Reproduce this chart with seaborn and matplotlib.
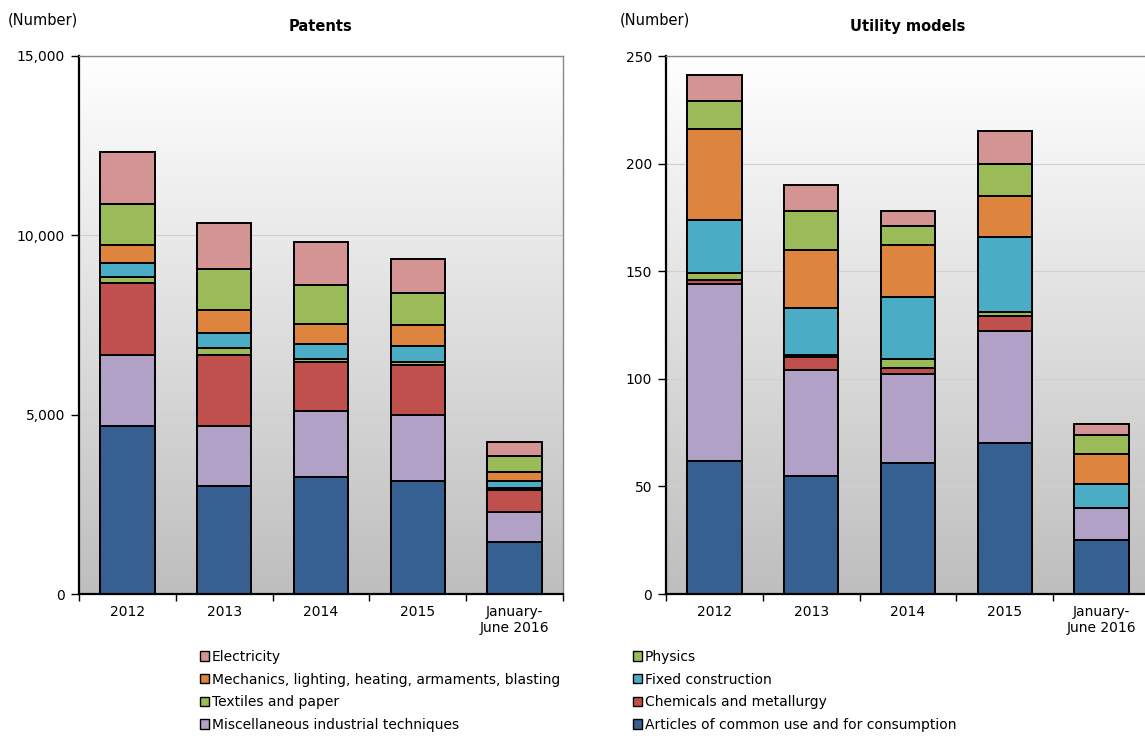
#!/usr/bin/env python3
"""Stacked bars: patents and utility models by technology field."""

import numpy as np
import pandas as pd
import matplotlib
matplotlib.use('Agg')
import matplotlib.pyplot as plt
from matplotlib.colors import LinearSegmentedColormap
from matplotlib.patches import Patch
from matplotlib.ticker import FuncFormatter, FixedLocator
import seaborn as sns

periods = ['2012', '2013', '2014', '2015', 'January-\nJune 2016']

# fields, bottom of the stack first
fields = [
    'Articles of common use and for consumption',
    'Miscellaneous industrial techniques',
    'Chemicals and metallurgy',
    'Textiles and paper',
    'Fixed construction',
    'Mechanics, lighting, heating, armaments, blasting',
    'Physics',
    'Electricity',
]
colors = ['#366092', '#B2A1C7', '#C0504D', '#9BBB59',
          '#4BACC6', '#DD843E', '#9BBB59', '#D49494']

patents_articles = [4684, 3011, 3262, 3159, 1458]
patents_misc = [1979, 1664, 1849, 1840, 820]
patents_chem = [2016, 1997, 1365, 1394, 613]
patents_textiles = [159, 177, 67, 75, 60]
patents_fixed = [381, 436, 436, 454, 208]
patents_mech = [511, 641, 548, 577, 234]
patents_physics = [1134, 1126, 1087, 884, 463]
patents_elec = [1467, 1300, 1208, 965, 390]

utility_articles = [62, 55, 61, 70, 25]
utility_misc = [82, 49, 41, 52, 15]
utility_chem = [2, 6, 3, 7, 0]
utility_textiles = [3, 1, 4, 2, 0]
utility_fixed = [25, 22, 29, 35, 11]
utility_mech = [42, 27, 24, 19, 14]
utility_physics = [13, 18, 9, 15, 9]
utility_elec = [12, 12, 7, 15, 5]

patents = [patents_articles, patents_misc, patents_chem, patents_textiles,
           patents_fixed, patents_mech, patents_physics, patents_elec]
utility = [utility_articles, utility_misc, utility_chem, utility_textiles,
           utility_fixed, utility_mech, utility_physics, utility_elec]

sns.set_theme(style='white')
plt.rcParams['font.family'] = ['DejaVu Sans']
plt.rcParams['text.color'] = 'black'
plt.rcParams['axes.labelcolor'] = 'black'
plt.rcParams['xtick.color'] = 'black'
plt.rcParams['ytick.color'] = 'black'

bg_cmap = LinearSegmentedColormap.from_list('bg', ['#BEBEBE', '#FFFFFF'])


def draw_panel(ax, layers, ymax, step, title):
    # gradient background
    grad = np.linspace(0, 1, 256).reshape(-1, 1)
    ax.imshow(grad, cmap=bg_cmap, aspect='auto', origin='lower',
              extent=[0, 1, 0, 1], transform=ax.transAxes, zorder=0)

    df = pd.DataFrame({'period': periods})
    tops = np.cumsum(np.array(layers), axis=0)
    # draw from the top layer down so lower bars cover the upper ones
    for i in range(len(layers) - 1, -1, -1):
        df['top'] = tops[i]
        sns.barplot(data=df, x='period', y='top', order=periods, ax=ax,
                    color=colors[i], saturation=1, width=0.56,
                    edgecolor='black', linewidth=1.4, zorder=2)

    ax.set_xlim(-0.5, 4.5)
    ax.set_ylim(0, ymax)
    ax.set_yticks(np.arange(0, ymax + 1, step))
    ax.yaxis.set_major_formatter(FuncFormatter(lambda v, p: f'{int(v):,}'))
    ax.grid(axis='y', color='#D0D0D0', linewidth=0.8, zorder=1)
    ax.set_axisbelow(True)
    ax.set_xlabel('')
    ax.set_ylabel('')

    ax.xaxis.set_minor_locator(FixedLocator(np.arange(-0.5, 5, 1)))
    ax.tick_params(axis='x', which='major', length=0, pad=8, labelsize=10,
                   labelcolor='black')
    ax.tick_params(axis='x', which='minor', length=5, width=1, color='black',
                   direction='out', bottom=True)
    ax.tick_params(axis='y', length=6, width=1, color='black', direction='out',
                   left=True, labelsize=10, pad=4, labelcolor='black')

    for side in ('left', 'bottom'):
        ax.spines[side].set_color('black')
        ax.spines[side].set_linewidth(1.6)
    for side in ('top', 'right'):
        ax.spines[side].set_color('#888888')
        ax.spines[side].set_linewidth(1.0)
    ax.spines['bottom'].set_zorder(3)

    ax.set_title(title, fontsize=10.5, fontweight='bold', pad=18,
                 color='black')


fig = plt.figure(figsize=(11.45, 7.36), dpi=100)
ax1 = fig.add_axes([79 / 1145, 142 / 736, 484 / 1145, 538 / 736])
ax2 = fig.add_axes([666 / 1145, 142 / 736, 484 / 1145, 538 / 736])

draw_panel(ax1, patents, 15000, 5000, 'Patents')
draw_panel(ax2, utility, 250, 50, 'Utility models')

fig.text(8 / 1145, 1 - 20 / 736, '(Number)', fontsize=10.5, va='center')
fig.text(620 / 1145, 1 - 20 / 736, '(Number)', fontsize=10.5, va='center')

handles = [Patch(facecolor=colors[i], edgecolor='black', linewidth=1)
           for i in range(len(fields))]
left_idx = [7, 5, 3, 1]
right_idx = [6, 4, 2, 0]
for idx, x0 in ((left_idx, 200 / 1145), (right_idx, 633 / 1145)):
    fig.legend([handles[i] for i in idx], [fields[i] for i in idx],
               loc='upper left', bbox_to_anchor=(x0, 1 - 650 / 736),
               frameon=False, fontsize=10, handlelength=0.65,
               handleheight=0.65, handletextpad=0.2, labelspacing=0.62,
               borderaxespad=0, borderpad=0, labelcolor='black')

fig.savefig('out.png', dpi=100)
